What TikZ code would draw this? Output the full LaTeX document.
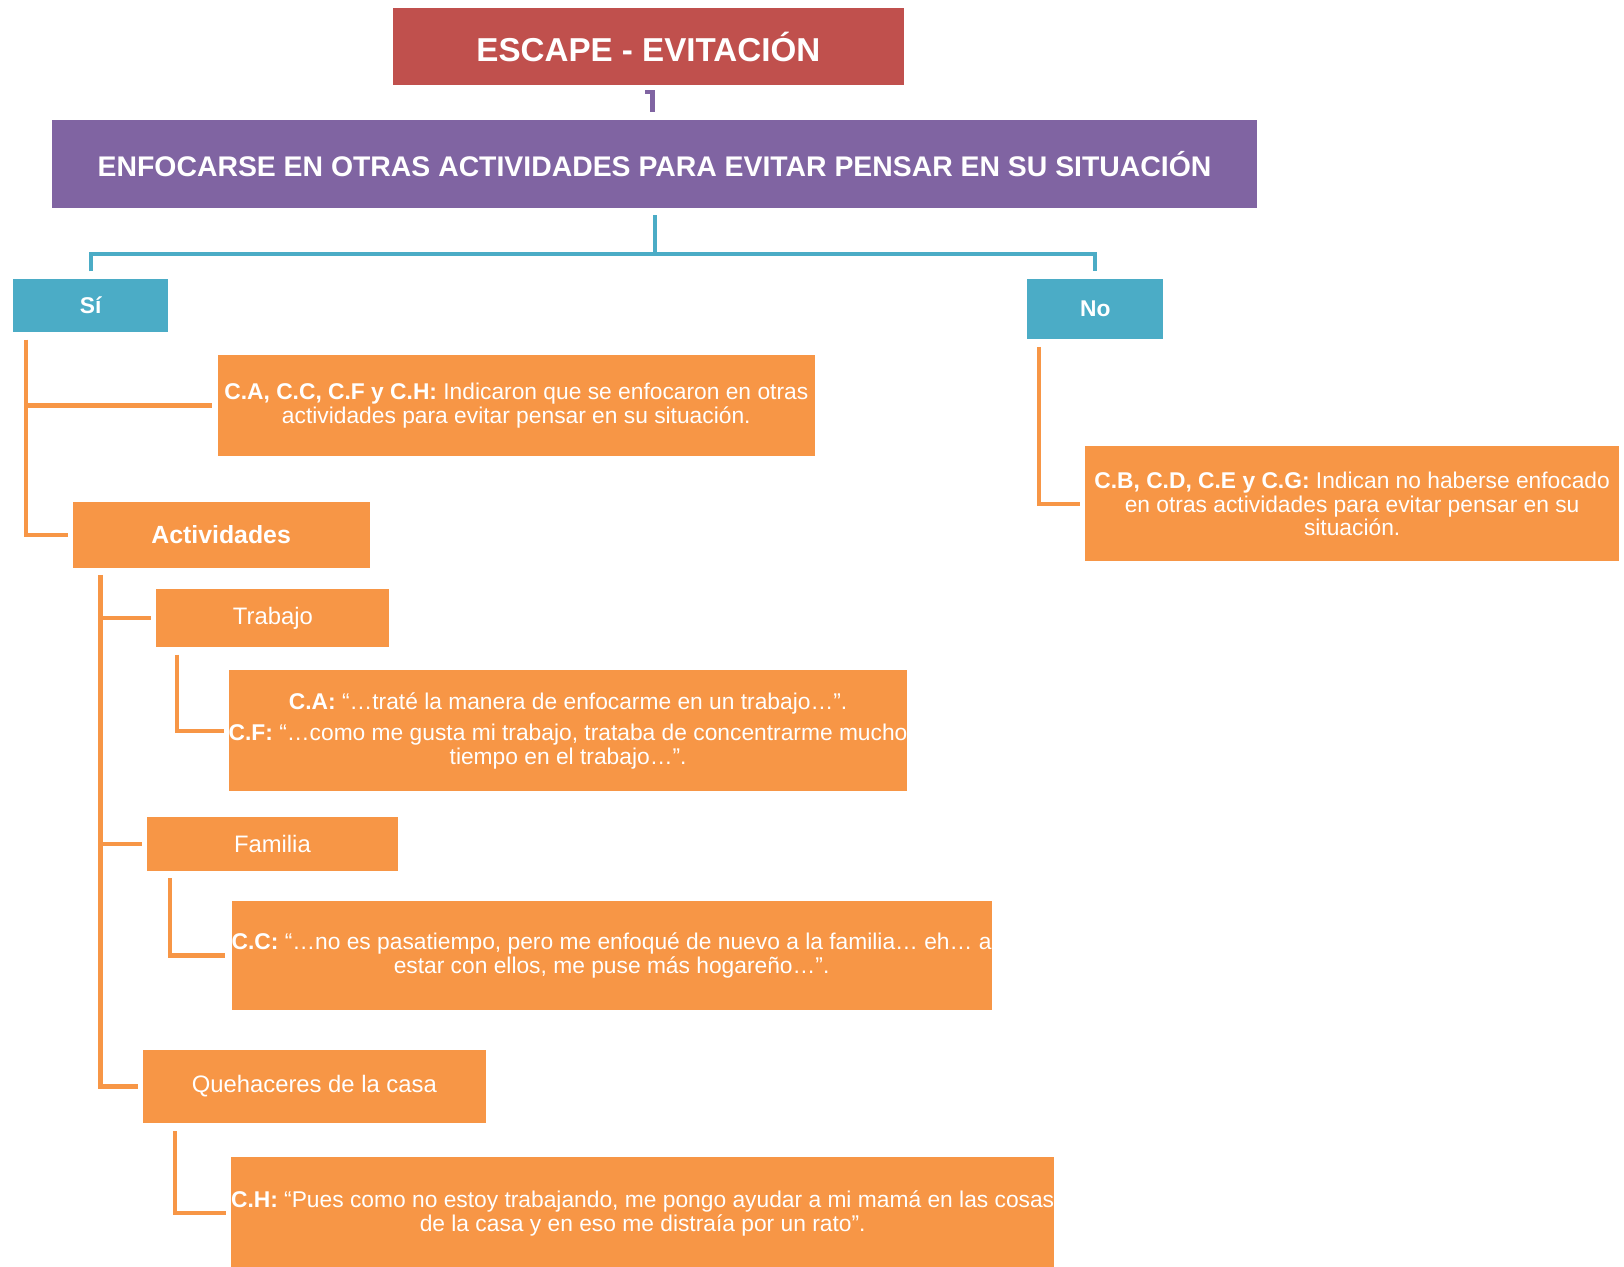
\documentclass[tikz,border=0pt]{standalone}
\usepackage{fontspec}
\setmainfont{Liberation Sans}
\usetikzlibrary{calc}

\definecolor{cred}{HTML}{C0504D}
\definecolor{cpurple}{HTML}{8064A2}
\definecolor{cblue}{HTML}{4BACC6}
\definecolor{corange}{HTML}{F79646}

\tikzset{
  box/.style={rectangle, inner sep=0pt, outer sep=0pt, text=white, align=center},
  redbox/.style={box, fill=cred, font=\fontsize{32}{34}\selectfont\bfseries},
  purplebox/.style={box, fill=cpurple, font=\fontsize{27.4}{29}\selectfont\bfseries},
  bluebox/.style={box, fill=cblue, font=\fontsize{22}{24}\selectfont\bfseries},
  catbox/.style={box, fill=corange, font=\fontsize{23}{24}\selectfont},
  quotebox/.style={box, fill=corange, font=\fontsize{22}{23}\selectfont},
  pline/.style={draw=cpurple, line width=4pt},
  bline/.style={draw=cblue, line width=4pt},
  oline/.style={draw=corange, line width=4pt},
}

\begin{document}
\begin{tikzpicture}[x=1pt, y=-1pt]
\useasboundingbox (0,0) rectangle (1568,1223);

% header boxes
\node[redbox, minimum width=494, minimum height=74] (title) at (626,45) {ESCAPE - EVITACIÓN};
\node[purplebox, minimum width=1164, minimum height=85] (main) at (632,158.5)
  {ENFOCARSE EN OTRAS ACTIVIDADES PARA EVITAR PENSAR EN SU SITUACIÓN};

% yes / no
\node[bluebox, minimum width=149, minimum height=52] (si) at (87.5,295) {Sí};
\node[bluebox, minimum width=131, minimum height=58] (no) at (1057.5,298) {No};

% "yes" branch
\node[quotebox, minimum width=577, minimum height=97] (ca) at (498.5,391.5)
  {\textbf{C.A, C.C, C.F y C.H:} Indicaron que se enfocaron en otras\\actividades para evitar pensar en su situación.};
\node[catbox, font=\fontsize{24}{26}\selectfont\bfseries, minimum width=287, minimum height=63] (act) at (213.5,516.5) {Actividades};

\node[catbox, minimum width=225, minimum height=56] (trab) at (263.5,597) {Trabajo};
\node[quotebox, minimum width=655, minimum height=117] (trabq) at (548.5,705.5)
  {\textbf{C.A:} “…traté la manera de enfocarme en un trabajo…”.\\[7pt]
   \textbf{C.F:} “…como me gusta mi trabajo, trataba de concentrarme mucho\\tiempo en el trabajo…”.};

\node[catbox, minimum width=242, minimum height=52] (fam) at (263,815) {Familia};
\node[quotebox, minimum width=727, minimum height=105] (famq) at (590.5,922.5)
  {\textbf{C.C:} “…no es pasatiempo, pero me enfoqué de nuevo a la familia… eh… a\\estar con ellos, me puse más hogareño…”.};

\node[catbox, minimum width=331, minimum height=70] (que) at (303.5,1049) {Quehaceres de la casa};
\node[quotebox, minimum width=793, minimum height=109] (queq) at (620.5,1171.5)
  {\textbf{C.H:} “Pues como no estoy trabajando, me pongo ayudar a mi mamá en las cosas\\de la casa y en eso me distraía por un rato”.};

% "no" branch
\node[quotebox, minimum width=515, minimum height=111] (noq) at (1305.5,486.5)
  {\textbf{C.B, C.D, C.E y C.G:} Indican no haberse enfocado\\en otras actividades para evitar pensar en su\\situación.};

% connectors
\draw[pline] ($(title.south)+(-3,7)$) -| ($(main.north)+(-2,-8)$);

\draw[bline] ($(main.south)+(0,7)$) -- ($(main.south)+(0,44)$);
\draw[bline] ($(si.north)+(0,-7)$) |- ($(main.south)+(0,44)$) -| ($(no.north)+(0,-7)$);

\coordinate (sitrunk) at ($(si.south west)+(12,7)$);
\draw[oline] (sitrunk) |- ($(act.west)+(-4,0)$);
\draw[oline] (sitrunk |- ca.west) -- ($(ca.west)+(-5,0)$);

\coordinate (acttrunk) at ($(act.south west)+(27,7)$);
\draw[oline] (acttrunk) |- ($(que.west)+(-5,0)$);
\draw[oline] (acttrunk |- trab.west) -- ($(trab.west)+(-5,0)$);
\draw[oline] (acttrunk |- fam.west) -- ($(fam.west)+(-5,0)$);

\draw[oline] ($(trab.south west)+(20,7)$) |- ($(trabq.west)+(-5,0)$);
\draw[oline] ($(fam.south west)+(22,7)$) |- ($(famq.west)+(-6,0)$);
\draw[oline] ($(que.south west)+(31,8)$) |- ($(queq.west)+(-5,0)$);
\draw[oline] ($(no.south west)+(11,8)$) |- ($(noq.west)+(-5,0)$);
\end{tikzpicture}
\end{document}
